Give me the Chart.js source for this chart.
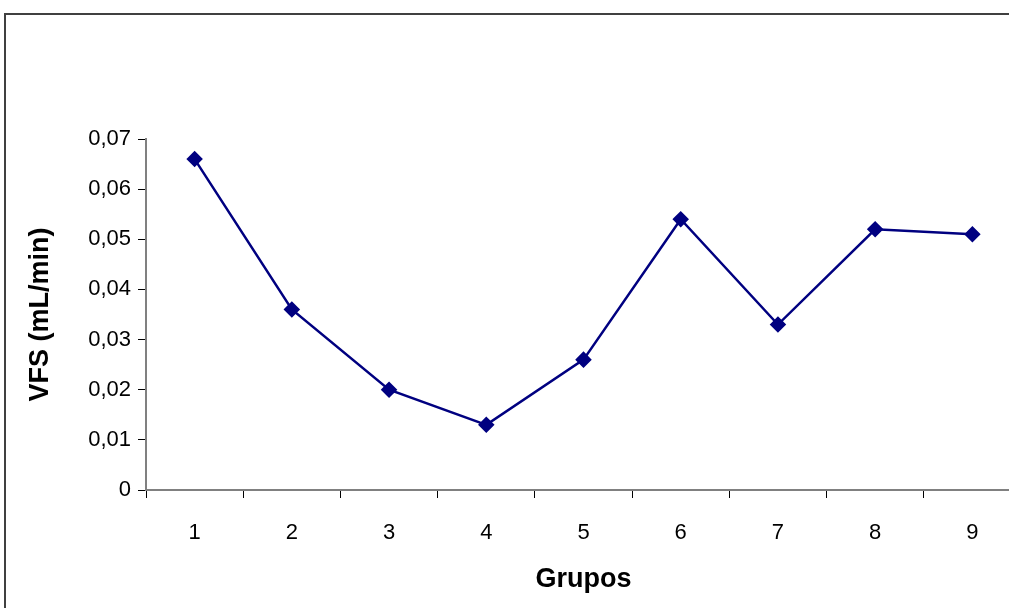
<!DOCTYPE html>
<html>
<head>
<meta charset="utf-8">
<script src="https://cdn.jsdelivr.net/npm/chart.js@4/dist/chart.umd.min.js"></script>
<style>
  html, body { margin: 0; padding: 0; background: #fff; overflow: hidden; }
  #frame { position: absolute; left: 4px; top: 13px; width: 1100px; height: 700px; border: 2px solid #404040; }
  #wrap { position: absolute; left: 0; top: 0; width: 1030px; height: 620px; }
</style>
</head>
<body>
<div id="frame"></div>
<div id="wrap"><canvas id="vfsChart"></canvas></div>
<script>
const grupos = ['1', '2', '3', '4', '5', '6', '7', '8', '9'];
const vfs = [0.066, 0.036, 0.020, 0.013, 0.026, 0.054, 0.033, 0.052, 0.051];
const yTicks = [0, 0.01, 0.02, 0.03, 0.04, 0.05, 0.06, 0.07];

const font = 'Liberation Sans, Arial, sans-serif';

new Chart(document.getElementById('vfsChart'), {
  type: 'line',
  data: {
    labels: grupos,
    datasets: [{
      data: vfs,
      borderColor: '#000080',
      backgroundColor: '#000080',
      borderWidth: 2.5,
      pointStyle: 'rectRot',
      pointRadius: 6.5,
      pointHoverRadius: 6.5,
      tension: 0
    }]
  },
  options: {
    responsive: true,
    maintainAspectRatio: false,
    animation: false,
    layout: { padding: { left: 0, right: 8, top: 139, bottom: 0 } },
    plugins: { legend: { display: false }, tooltip: { enabled: false } },
    scales: {
      x: {
        type: 'category',
        offset: true,
        grid: { offset: true, drawOnChartArea: false, tickLength: 8, color: '#000', lineWidth: 1 },
        border: { color: '#808080', width: 2 },
        ticks: { color: '#000', font: { family: font, size: 22 }, padding: 22 },
        title: { display: true, text: 'Grupos', color: '#000', font: { family: font, size: 27, weight: 'bold' }, padding: { top: 0, bottom: 24 } },
        afterFit: s => { s.height = 130; }
      },
      y: {
        min: 0,
        max: 0.07,
        afterBuildTicks: s => { s.ticks = yTicks.map(v => ({ value: v })); },
        grid: { drawOnChartArea: false, tickLength: 8, color: '#000', lineWidth: 1 },
        border: { color: '#808080', width: 2 },
        ticks: {
          color: '#000',
          font: { family: font, size: 22 },
          padding: 7,
          callback: v => v === 0 ? '0' : v.toFixed(2).replace('.', ',')
        },
        title: { display: true, text: 'VFS (mL/min)', color: '#000', font: { family: font, size: 27, weight: 'bold' }, padding: { top: 24, bottom: 0 } },
        afterFit: s => { s.width = 146; }
      }
    }
  }
});
</script>
</body>
</html>
